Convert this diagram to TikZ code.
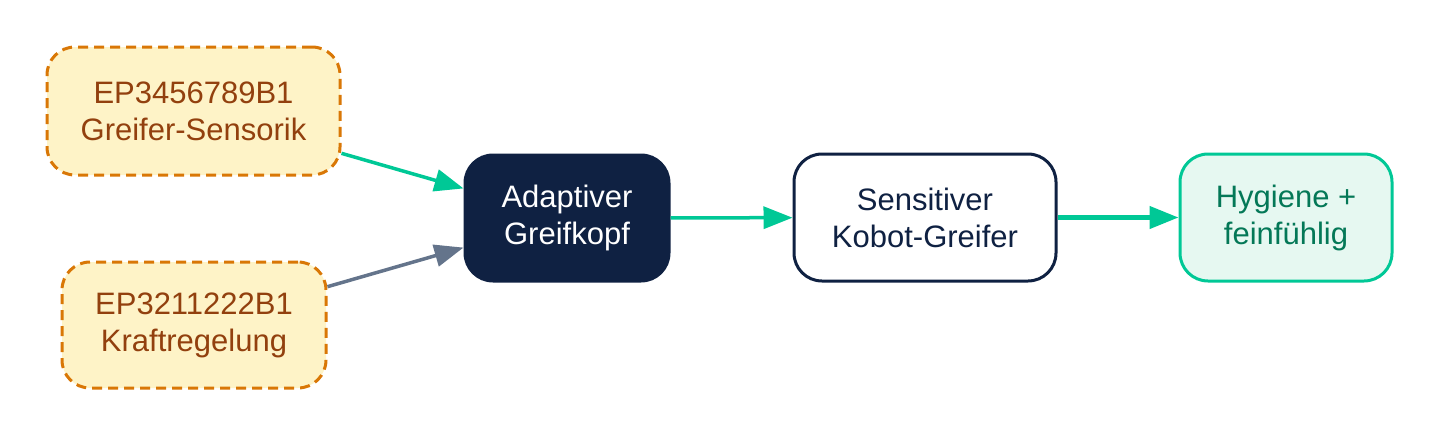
\documentclass[tikz,border=0pt]{standalone}
\usepackage{fontspec}
\setmainfont{Liberation Sans}
\usetikzlibrary{arrows.meta}
\definecolor{orng}{HTML}{D97706}
\definecolor{orngfill}{HTML}{FEF3C7}
\definecolor{orngtext}{HTML}{92400E}
\definecolor{navy}{HTML}{0F2142}
\definecolor{grn}{HTML}{00C896}
\definecolor{gry}{HTML}{64748B}
\definecolor{mint}{HTML}{E6F8F1}
\definecolor{dgrn}{HTML}{047857}
\begin{document}
\begin{tikzpicture}[x=1pt,y=-1pt,
  every node/.style={font=\fontsize{31}{37}\selectfont, align=center, inner sep=0pt},
  patbox/.style={draw=orng, fill=orngfill, text=orngtext, line width=3pt,
    dash pattern=on 10pt off 6pt, rounded corners=28pt},
  darkbox/.style={draw=navy, fill=navy, text=white, line width=3pt, rounded corners=28pt},
  whitebox/.style={draw=navy, fill=white, text=navy, line width=3pt, rounded corners=28pt},
  resbox/.style={draw=grn, fill=mint, text=dgrn, line width=3pt, rounded corners=28pt},
  conn/.style={line width=3.5pt, -{Triangle[length=29pt,width=22pt]}}
]
\useasboundingbox (0,0) rectangle (1440,437);
\node[patbox, minimum width=293pt, minimum height=128pt] (A) at (193.5,111) {EP3456789B1\\Greifer-Sensorik};
\node[patbox, minimum width=264pt, minimum height=126pt] (B) at (194,325) {EP3211222B1\\Kraftregelung};
\node[darkbox, minimum width=204pt, minimum height=126pt] (C) at (567,218) {Adaptiver\\Greifkopf};
\node[whitebox, minimum width=262pt, minimum height=127pt] (D) at (925,217.5) {Sensitiver\\Kobot-Greifer};
\node[resbox, minimum width=212pt, minimum height=127pt] (E) at (1286,217.5) {Hygiene +\\feinfühlig};
\draw[conn, grn] (A) -- (C);
\draw[conn, gry] (B) -- (C);
\draw[conn, grn] (C) -- (D);
\draw[conn, grn, line width=4.5pt] (D) -- (E);
\end{tikzpicture}
\end{document}
